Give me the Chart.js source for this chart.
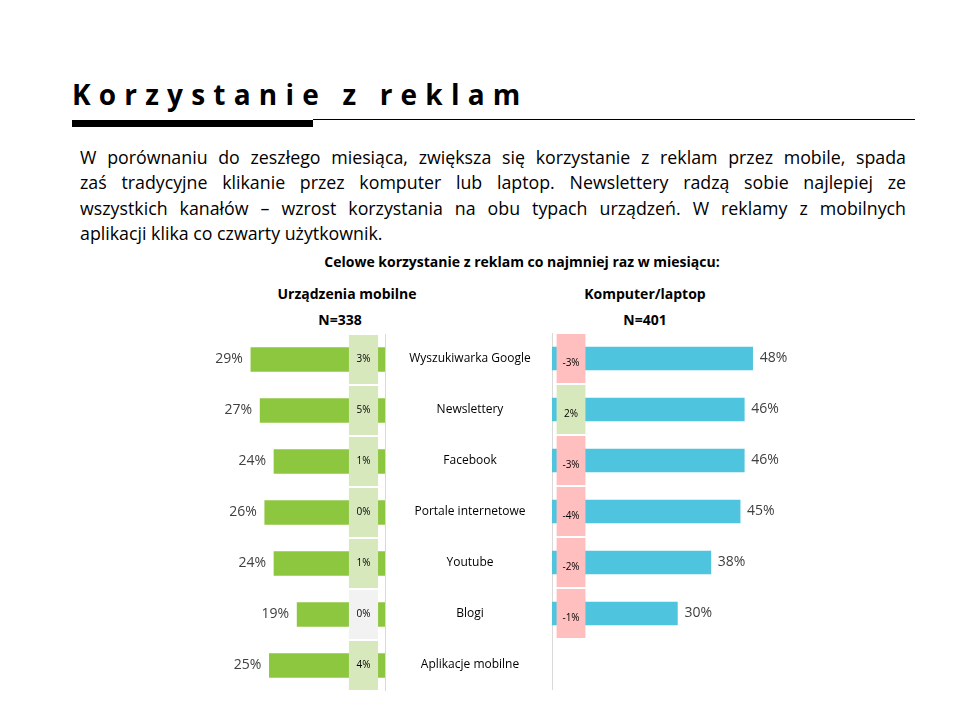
<!DOCTYPE html>
<html><head><meta charset="utf-8">
<script src="https://cdn.jsdelivr.net/npm/chart.js@4"></script>
<style>
body{margin:0;width:960px;height:720px;background:#fff;position:relative;overflow:hidden;font-family:"Open Sans",sans-serif;color:#000;}
.abs{position:absolute;}
#title{left:72px;top:75px;font-weight:700;font-size:28px;letter-spacing:8.2px;line-height:38px;white-space:nowrap;}
#barThick{left:72px;top:120px;width:241px;height:7px;background:#000;}
#barThin{left:313px;top:119px;width:602px;height:1px;background:#000;}
#para{left:80px;top:145px;width:826px;font-size:17.8px;line-height:25.4px;}
#para div{text-align:justify;text-align-last:justify;}
#para div.last{text-align-last:left;}
.hdr{font-weight:700;text-align:center;white-space:nowrap;}
#sub{left:322px;width:400px;top:252px;font-size:14px;line-height:20px;}
#hm1{left:247px;width:200px;top:284px;font-size:14px;line-height:20px;}
#hm2{left:240px;width:200px;top:310px;font-size:14px;line-height:20px;}
#hc1{left:545px;width:200px;top:284px;font-size:14px;line-height:20px;}
#hc2{left:545px;width:200px;top:310px;font-size:14px;line-height:20px;}
canvas{position:absolute;}
</style></head>
<body>
<div id="title" class="abs">Korzystanie z reklam</div>
<div id="barThick" class="abs"></div>
<div id="barThin" class="abs"></div>
<div id="para" class="abs">
<div>W porównaniu do zeszłego miesiąca, zwiększa się korzystanie z reklam przez mobile, spada</div>
<div>zaś tradycyjne klikanie przez komputer lub laptop. Newslettery radzą sobie najlepiej ze</div>
<div>wszystkich kanałów – wzrost korzystania na obu typach urządzeń. W reklamy z mobilnych</div>
<div class="last">aplikacji klika co czwarty użytkownik.</div>
</div>
<div id="sub" class="abs hdr">Celowe korzystanie z reklam co najmniej raz w miesiącu:</div>
<div id="hm1" class="abs hdr">Urządzenia mobilne</div>
<div id="hm2" class="abs hdr">N=338</div>
<div id="hc1" class="abs hdr">Komputer/laptop</div>
<div id="hc2" class="abs hdr">N=401</div>
<canvas id="cm" width="240" height="357" style="left:150px;top:334px;width:240px;height:357px;"></canvas>
<canvas id="cc" width="426" height="357" style="left:385px;top:333px;width:426px;height:357px;"></canvas>
<script>
const categories = ['Wyszukiwarka Google','Newslettery','Facebook','Portale internetowe','Youtube','Blogi','Aplikacje mobilne'];
const mobileValues = [29,27,24,26,24,19,25];
const mobileChange = [3,5,1,0,1,0,4];
const computerValues = [48,46,46,45,38,30,null];
const computerChange = [-3,2,-3,-4,-2,-1,null];

const GREEN = '#8dc63f', BLUE = '#4fc4de';
const BOX_GREEN = '#d7e8bc', BOX_PINK = '#ffbfbf', BOX_GRAY = '#f2f2f2';
const mobileBoxColors = [BOX_GREEN,BOX_GREEN,BOX_GREEN,BOX_GREEN,BOX_GREEN,BOX_GRAY,BOX_GREEN];
const computerBoxColors = computerChange.map(v => v === null ? BOX_GRAY : (v < 0 ? BOX_PINK : BOX_GREEN));
const FONT = '"Open Sans", sans-serif';

function labelPlugin(side, changes, boxDy){
  return {
    id:'labels_'+side,
    afterDatasetsDraw(chart){
      const ctx = chart.ctx;
      const boxMeta = chart.getDatasetMeta(0);
      const valMeta = chart.getDatasetMeta(1);
      const vals = chart.data.datasets[1].data;
      ctx.save();
      ctx.textBaseline = 'middle';
      valMeta.data.forEach((el, i) => {
        if (vals[i] === null || vals[i] === undefined) return;
        ctx.font = '14px ' + FONT;
        ctx.fillStyle = '#404040';
        if (side === 'left') { ctx.textAlign = 'right'; ctx.fillText(vals[i] + '%', el.x - 8, el.y); }
        else { ctx.textAlign = 'left'; ctx.fillText(vals[i] + '%', el.x + 7, el.y); }
      });
      boxMeta.data.forEach((el, i) => {
        if (changes[i] === null) return;
        ctx.font = '10px ' + FONT;
        ctx.fillStyle = '#000';
        ctx.textAlign = 'center';
        ctx.fillText(changes[i] + '%', (el.x + el.base) / 2, el.y + boxDy);
      });
      ctx.restore();
    }
  };
}

const common = {
  indexAxis:'y', responsive:false, animation:false, events:[],
  plugins:{legend:{display:false}, tooltip:{enabled:false}}
};

new Chart(document.getElementById('cm'), {
  type:'bar',
  data:{labels:categories, datasets:[
    {data: mobileChange.map(v => v === null ? null : [1.5, 7.8]), backgroundColor: mobileBoxColors, grouped:false, barPercentage:1, categoryPercentage:0.96, order:0},
    {data: mobileValues, backgroundColor: GREEN, grouped:false, barThickness:24, order:1}
  ]},
  options:Object.assign({}, common, {
    layout:{padding:{left:50,right:5,top:0,bottom:0}},
    scales:{
      x:{reverse:true, min:0, max:40, display:false},
      y:{position:'right', ticks:{display:false}, grid:{display:false, drawTicks:false}, border:{display:true, color:'#d9d9d9', width:1}}
    }
  }),
  plugins:[labelPlugin('left', mobileChange, 0)]
});

const measure = document.createElement('canvas').getContext('2d');
measure.font = '12px ' + FONT;
const widest = Math.max(...categories.map(c => measure.measureText(c).width));
const AXIS_W = 167, LABEL_CENTER_FROM_AXIS = 82;

new Chart(document.getElementById('cc'), {
  type:'bar',
  data:{labels:categories, datasets:[
    {data: computerChange.map(v => v === null ? null : [1.1, 8.0]), backgroundColor: computerBoxColors, grouped:false, barPercentage:1, categoryPercentage:0.96, order:0},
    {data: computerValues, backgroundColor: BLUE, grouped:false, barThickness:23, order:1}
  ]},
  options:Object.assign({}, common, {
    layout:{padding:{left:0,right:50,top:0,bottom:0}},
    scales:{
      x:{min:0, max:50, display:false},
      y:{position:'left',
         afterFit(scale){ scale.width = AXIS_W; scale.paddingTop = 0; scale.paddingBottom = 0; },
         ticks:{display:true, crossAlign:'center', padding: LABEL_CENTER_FROM_AXIS - widest/2, color:'#000', font:{family:FONT, size:12}},
         grid:{display:false, drawTicks:false},
         border:{display:true, color:'#d9d9d9', width:1}}
    }
  }),
  plugins:[labelPlugin('right', computerChange, 5)]
});
</script>
</body></html>
